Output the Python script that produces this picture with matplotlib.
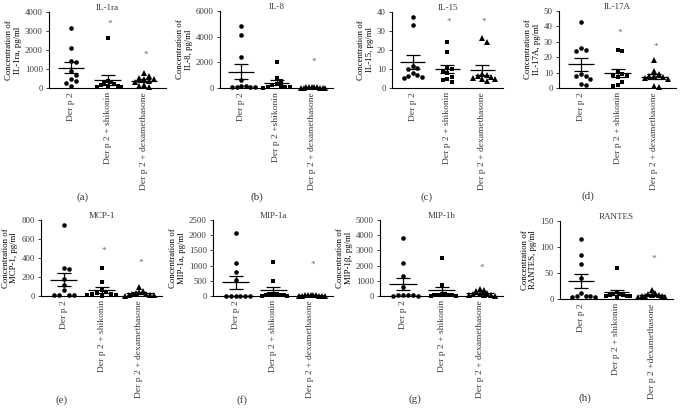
import numpy as np
import matplotlib.pyplot as plt

plt.rcParams['font.family'] = ['Liberation Serif', 'DejaVu Serif']
plt.rcParams['text.color'] = '#3a3a3a'
plt.rcParams['xtick.color'] = '#3a3a3a'
plt.rcParams['ytick.color'] = '#3a3a3a'

# group names (x tick labels differ slightly between panels in the original)
groups = ['Der p 2', 'Der p 2 + shikonin', 'Der p 2 + dexamethasone']
groups_b = ['Der p 2', 'Der p 2 +shikonin', 'Der p 2 + dexamethasone']
groups_h = ['Der p 2', 'Der p 2 + shikonin', 'Der p 2 +dexamethasone']

titles = ['IL-1ra', 'IL-8', 'IL-15', 'IL-17A', 'MCP-1', 'MIP-1a', 'MIP-1b', 'RANTES']
ylabels = ['Concentration of\nIL-1ra, pg/ml', 'Concentration of\nIL-8, pg/ml',
           'Concentration of\nIL-15, pg/ml', 'Concentration of\nIL-17A, pg/ml',
           'Concentration of\nMCP-1, pg/ml', 'Concentration of\nMIP-1a, pg/ml',
           'Concentration of\nMIP-1\u03b2, pg/ml', 'Concentration of\nRANTES, pg/ml']
letters = ['(a)', '(b)', '(c)', '(d)', '(e)', '(f)', '(g)', '(h)']

# values per group: Der p 2, + shikonin, + dexamethasone
il1ra = [[3150, 2100, 1400, 1350, 900, 700, 500, 350, 250, 80],
         [2650, 350, 300, 250, 200, 150, 100, 80, 60, 50],
         [800, 650, 550, 500, 450, 350, 300, 150, 100, 30]]
il8 = [[4800, 4150, 2400, 600, 150, 100, 80, 60, 50, 150],
       [2000, 750, 550, 300, 200, 150, 100, 60, 40, 30],
       [80, 60, 50, 40, 40, 30, 30, 20, 20, 10]]
il15 = [[37.5, 33, 11.5, 10.5, 10, 8, 7, 6.5, 6, 5.5],
        [24, 19, 11, 10, 9, 8, 6, 5, 4, 3],
        [26.5, 24, 7.5, 7, 6.5, 6, 5.5, 5, 4.5, 3.5]]
il17a = [[43, 26, 25, 24, 9, 8, 7.5, 6, 2.5, 2],
         [24.5, 24, 11, 9, 8.5, 8, 7, 4, 2, 1.5],
         [18, 11, 9, 8, 7.5, 7, 6.5, 6, 1, 0.5]]
mcp1 = [[750, 290, 285, 180, 120, 60, 15, 10, 10, 10],
        [290, 145, 60, 40, 30, 25, 20, 15, 10, 5],
        [100, 55, 45, 30, 25, 20, 15, 10, 10, 5]]
mip1a = [[2060, 1100, 800, 520, 10, 10, 10, 10, 10, 10],
         [1120, 490, 80, 60, 50, 40, 30, 20, 10, 10],
         [40, 30, 30, 20, 20, 15, 10, 10, 5, 5]]
mip1b = [[3800, 2150, 1300, 600, 80, 60, 50, 40, 30, 20],
         [2500, 750, 150, 100, 80, 60, 50, 40, 30, 20],
         [450, 380, 300, 200, 120, 100, 80, 60, 40, 20]]
rantes = [[115, 85, 68, 40, 12, 6, 5, 5, 4, 4],
          [60, 14, 10, 9, 8, 7, 6, 5, 5, 4],
          [17, 12, 9, 8, 7, 6, 5, 5, 4, 3]]

# height of significance stars (None = no star)
stars = [[None, 3400, 1750], [None, None, 2000], [None, 35, 35], [None, 36, 27],
         [None, 470, 350], [None, None, 1030], [None, None, 1850], [None, None, 78]]

yticks = [[0, 1000, 2000, 3000, 4000], [0, 2000, 4000, 6000], [0, 10, 20, 30, 40],
          [0, 10, 20, 30, 40, 50], [0, 200, 400, 600, 800], [0, 500, 1000, 1500, 2000, 2500],
          [0, 1000, 2000, 3000, 4000, 5000], [0, 50, 100, 150]]

data = [il1ra, il8, il15, il17a, mcp1, mip1a, mip1b, rantes]
xlabels = [groups, groups_b, groups, groups, groups, groups, groups, groups_h]
markers = ['o', 's', '^']

# axes boxes in pixels (left, top, right, bottom) of a 680x409 image
boxes = [(49, 12, 166, 88), (220, 11, 333, 88), (392, 12, 503, 88), (559, 11, 676, 88),
         (41, 220, 162, 296), (213, 220, 333, 296), (380, 220, 503, 296), (560, 221, 673, 299)]
letter_pos = [(83, 197), (257, 197), (427, 197), (588, 196),
              (62, 400), (242, 400), (415, 399), (585, 398)]

W, H = 680, 409


def swarm(vals, ymax, h_px, d=0.13, width=0.38):
    ys = np.array(vals) / ymax * h_px
    xs = np.zeros(len(vals))
    placed = []
    for i in np.argsort(vals)[::-1]:
        cand = 0.0
        for k in range(30):
            cand = 0.0 if k == 0 else ((k + 1) // 2) * d * (1 if k % 2 else -1)
            if all(((cand - px) / d) ** 2 + ((ys[i] - py) / 5.0) ** 2 >= 1 for px, py in placed):
                break
        xs[i] = cand
        placed.append((cand, ys[i]))
    # squeeze wide rows back into the group's column
    big = np.abs(xs).max()
    if big > width:
        xs = xs * width / big
    return xs


fig = plt.figure(figsize=(6.8, 4.09), dpi=100)

for p in range(8):
    l, t, r, b = boxes[p]
    ax = fig.add_axes([l / W, 1 - b / H, (r - l) / W, (b - t) / H])
    ymax = yticks[p][-1]
    for g in range(3):
        vals = np.array(data[p][g], dtype=float)
        xs = g + swarm(vals, ymax, b - t)
        ax.plot(xs, vals, markers[g], color='black', ms=3.3 if g < 2 else 3.7,
                mew=0, clip_on=False, zorder=3)
        m = vals.mean()
        sem = vals.std(ddof=1) / np.sqrt(len(vals))
        ax.hlines(m, g - 0.36, g + 0.36, color='black', lw=0.9, zorder=4)
        ax.errorbar(g, m, yerr=sem, color='black', lw=0.9, capsize=5, capthick=0.9, zorder=4)
        if stars[p][g] is not None:
            ax.text(g + 0.05, stars[p][g], '*', ha='center', va='center', fontsize=6.5, color='#666666')
    ax.set_xlim(-0.6, 2.6)
    ax.set_ylim(0, ymax)
    ax.set_yticks(yticks[p])
    ax.set_xticks([0, 1, 2])
    ax.set_xticklabels(xlabels[p], rotation=90, fontsize=6.8)
    ax.tick_params(axis='y', labelsize=6.3, length=2.5, width=0.7, pad=2)
    ax.tick_params(axis='x', length=0, pad=3)
    for s in ['top', 'right']:
        ax.spines[s].set_visible(False)
    for s in ['left', 'bottom']:
        ax.spines[s].set_linewidth(0.8)
    ax.set_title(titles[p], fontsize=6.5, pad=1.5)
    ax.set_ylabel(ylabels[p], fontsize=6.3, labelpad=2, linespacing=1.1)
    fig.text(letter_pos[p][0] / W, 1 - letter_pos[p][1] / H, letters[p],
             ha='center', va='center', fontsize=8)

fig.savefig('out.png', dpi=100)
